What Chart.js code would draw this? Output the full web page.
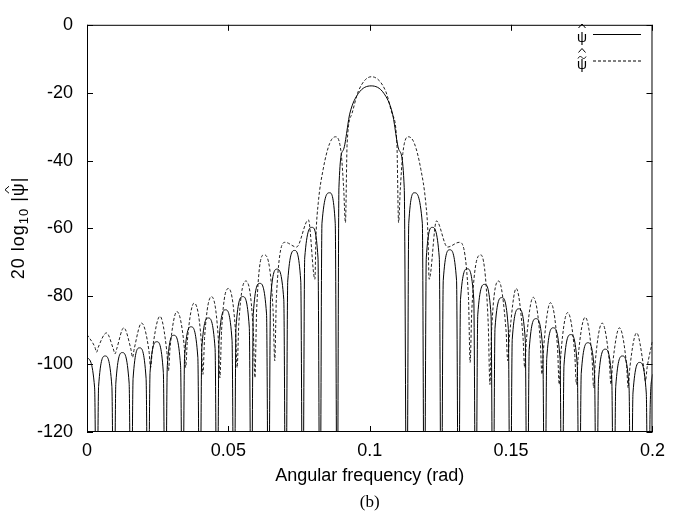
<!DOCTYPE html>
<html>
<head>
<meta charset="utf-8">
<script src="https://cdn.jsdelivr.net/npm/chart.js@4.4.0/dist/chart.umd.min.js"></script>
<style>
  html, body { margin: 0; padding: 0; background: #fff; }
</style>
</head>
<body>
<canvas id="myChart" width="673" height="518"></canvas>
<script>
const xTicks = [0, 0.05, 0.1, 0.15, 0.2];
const yTicks = [0, -20, -40, -60, -80, -100, -120];

// psi hat (solid) - nulls sit below the axis and get clipped
const solidX = [
  0, 0.0027, 0.0034,
  0.0041, 0.0064, 0.0088, 0.0095,
  0.0102, 0.0125, 0.0149, 0.0156,
  0.0163, 0.0186, 0.0209, 0.0216,
  0.0223, 0.0247, 0.0270, 0.0277,
  0.0284, 0.0307, 0.0331, 0.0338,
  0.0345, 0.0368, 0.0392, 0.0399,
  0.0406, 0.0429, 0.0453, 0.0460,
  0.0467, 0.0490, 0.0513, 0.0520,
  0.0527, 0.0551, 0.0574, 0.0581,
  0.0588, 0.0611, 0.0635, 0.0642,
  0.0649, 0.0672, 0.0696, 0.0703,
  0.0710, 0.0734, 0.0756, 0.0763,
  0.0770, 0.0796, 0.0817, 0.0824,
  0.0831, 0.0858, 0.0878, 0.0885,
  0.0891, 0.0906, 0.0930, 0.0960, 0.1005, 0.1050, 0.1080, 0.1104, 0.1122, 0.1131,
  0.1138, 0.1158, 0.1186, 0.1193,
  0.1200, 0.1221, 0.1246, 0.1253,
  0.1260, 0.1283, 0.1307, 0.1314,
  0.1321, 0.1345, 0.1368, 0.1375,
  0.1382, 0.1406, 0.1429, 0.1436,
  0.1443, 0.1467, 0.1490, 0.1497,
  0.1504, 0.1527, 0.1550, 0.1557,
  0.1564, 0.1588, 0.1612, 0.1619,
  0.1626, 0.1649, 0.1673, 0.1680,
  0.1687, 0.1711, 0.1734, 0.1741,
  0.1748, 0.1772, 0.1795, 0.1802,
  0.1809, 0.1833, 0.1856, 0.1863,
  0.1870, 0.1894, 0.1917, 0.1924,
  0.1931, 0.1955, 0.1978, 0.1985,
  0.1992, 0.2
];
const solidY = [
  -98, -107, -160,
  -106.6, -97.6, -106.6, -160,
  -105.6, -96.6, -105.6, -160,
  -104.2, -95.2, -104.2, -160,
  -102.4, -93.4, -102.4, -160,
  -100.5, -91.5, -100.5, -160,
  -98, -89, -98, -160,
  -95.4, -86.4, -95.4, -160,
  -93, -84, -93, -160,
  -89.1, -80.1, -89.1, -160,
  -85.2, -76.2, -85.2, -160,
  -81, -72, -81, -160,
  -75.5, -66.5, -75.5, -160,
  -68.7, -59.7, -68.7, -160,
  -58.5, -49.5, -58.5, -160,
  -48, -37, -26, -20.2, -18, -20.2, -26, -37, -48, -160,
  -58.5, -49.5, -58.5, -160,
  -68.7, -59.7, -68.7, -160,
  -75.3, -66.3, -75.3, -160,
  -80.9, -71.9, -80.9, -160,
  -85.5, -76.5, -85.5, -160,
  -89.4, -80.4, -89.4, -160,
  -92.7, -83.7, -92.7, -160,
  -95.6, -86.6, -95.6, -160,
  -98.3, -89.3, -98.3, -160,
  -100.3, -91.3, -100.3, -160,
  -102.7, -93.7, -102.7, -160,
  -104.6, -95.6, -104.6, -160,
  -106.6, -97.6, -106.6, -160,
  -108.5, -99.5, -108.5, -160,
  -112, -103
];

// psi tilde hat (dashed)
const dashedX = [
  0, 0.0028, 0.0034, 0.0040,
  0.0069, 0.0093, 0.0099, 0.0105,
  0.0130, 0.0155, 0.0161, 0.0167,
  0.0193, 0.0219, 0.0225, 0.0231,
  0.0258, 0.0282, 0.0288, 0.0294,
  0.0318, 0.0343, 0.0349, 0.0355,
  0.0379, 0.0404, 0.0410, 0.0416,
  0.0440, 0.0464, 0.0470, 0.0476,
  0.0501, 0.0525, 0.0531, 0.0537,
  0.0562, 0.0588, 0.0594, 0.0600,
  0.0626, 0.0658, 0.0664, 0.0670,
  0.0701, 0.0741,
  0.0783, 0.0806, 0.0810, 0.0818, 0.0835, 0.0858, 0.0879, 0.0899, 0.0908, 0.0914,
  0.0920, 0.0937, 0.0960, 0.1006, 0.1056, 0.1079, 0.1096, 0.1102,
  0.1108, 0.1117, 0.1137, 0.1158, 0.1181, 0.1198, 0.1206, 0.1210,
  0.1236, 0.1275,
  0.1317, 0.1349, 0.1355, 0.1361,
  0.1393, 0.1419, 0.1425, 0.1431,
  0.1456, 0.1482, 0.1488, 0.1494,
  0.1518, 0.1542, 0.1548, 0.1554,
  0.1578, 0.1603, 0.1609, 0.1615,
  0.1639, 0.1664, 0.1670, 0.1676,
  0.1700, 0.1725, 0.1731, 0.1737,
  0.1762, 0.1786, 0.1792, 0.1798,
  0.1822, 0.1847, 0.1853, 0.1859,
  0.1883, 0.1908, 0.1914, 0.1920,
  0.1944, 0.1969, 0.1975, 0.1981,
  0.2
];
const dashedY = [
  -91.3, -95, -96.5, -95,
  -90.8, -95.5, -97, -95.5,
  -89.3, -95.5, -98, -95.5,
  -87.9, -96, -101, -96,
  -85.9, -96, -102, -95,
  -84.5, -94, -101, -93,
  -82, -93, -103, -92,
  -80.1, -92, -104, -90,
  -77.7, -90, -101, -88,
  -75.5, -90, -104, -84,
  -67.8, -84, -99, -80,
  -64.1, -65.5,
  -57.5, -75, -62, -52.4, -42.7, -35, -33, -37.9, -48.6, -58.3,
  -35, -26.2, -19.5, -15.3, -19.5, -26.2, -35, -58.3,
  -48.6, -37.9, -33, -35, -42.7, -52.4, -62, -75,
  -57.8, -65.5,
  -64.1, -80, -99.5, -84,
  -67.8, -88, -106, -90,
  -75.5, -90, -99, -92,
  -77.7, -92, -101, -93,
  -80.3, -93, -103, -95,
  -81.9, -95, -106, -97,
  -84.8, -97, -106, -98,
  -86.2, -98, -107, -99,
  -87.9, -99, -106, -100,
  -89.3, -100, -107, -101,
  -90.8, -101, -105, -101,
  -93.2
];

const SANS = '"Liberation Sans", Arial, Helvetica, sans-serif';
const SERIF = '"Liberation Serif", "Times New Roman", serif';
const FS = 18;

function hat(ctx, cx, cy) {
  ctx.beginPath();
  ctx.moveTo(cx - 3.5, cy + 2);
  ctx.lineTo(cx, cy - 2);
  ctx.lineTo(cx + 3.5, cy + 2);
  ctx.stroke();
}
function tilde(ctx, cx, cy) {
  ctx.beginPath();
  ctx.moveTo(cx - 4, cy + 1);
  ctx.bezierCurveTo(cx - 2.5, cy - 2, cx - 1, cy - 1, cx, cy);
  ctx.bezierCurveTo(cx + 1, cy + 1, cx + 2.5, cy + 2, cx + 4, cy - 1);
  ctx.stroke();
}

// box, inward ticks, legend and texts
const frame = {
  id: 'frame',
  afterDatasetsDraw(chart) {
    const ctx = chart.ctx;
    const a = chart.chartArea;
    const xs = chart.scales.x, ys = chart.scales.y;
    ctx.save();
    ctx.strokeStyle = '#000';
    ctx.fillStyle = '#000';
    ctx.lineWidth = 1;
    ctx.setLineDash([]);
    ctx.strokeRect(a.left + 0.5, a.top + 0.5, a.right - a.left - 1, a.bottom - a.top - 1);

    ctx.beginPath();
    xTicks.forEach(v => {
      const px = Math.round(xs.getPixelForValue(v)) + 0.5;
      ctx.moveTo(px, a.bottom); ctx.lineTo(px, a.bottom - 6);
      ctx.moveTo(px, a.top); ctx.lineTo(px, a.top + 6);
    });
    yTicks.forEach(v => {
      const py = Math.round(ys.getPixelForValue(v)) + 0.5;
      ctx.moveTo(a.left, py); ctx.lineTo(a.left + 6, py);
      ctx.moveTo(a.right, py); ctx.lineTo(a.right - 6, py);
    });
    ctx.stroke();

    // legend
    chart.data.datasets.forEach((ds, i) => {
      const ly = 34 + i * 26.5;
      ctx.setLineDash(ds.borderDash || []);
      ctx.beginPath();
      ctx.moveTo(593, ly + 0.5); ctx.lineTo(641, ly + 0.5);
      ctx.stroke();
      ctx.setLineDash([]);
      ctx.font = '14px ' + SANS;
      ctx.textAlign = 'center';
      ctx.textBaseline = 'alphabetic';
      ctx.fillText('\u03C8', 582, ly + 8);
      if (i === 0) {
        hat(ctx, 582, ly - 8);
      } else {
        hat(ctx, 582, ly - 10);
        tilde(ctx, 582, ly - 3);
      }
    });

    // x title and caption
    ctx.textAlign = 'center';
    ctx.textBaseline = 'middle';
    ctx.font = FS + 'px ' + SANS;
    ctx.fillText('Angular frequency (rad)', (a.left + a.right) / 2, 476);
    ctx.font = '17px ' + SERIF;
    ctx.fillText('(b)', (a.left + a.right) / 2, 503);

    // y title, rotated
    ctx.translate(19, 228);
    ctx.rotate(-Math.PI / 2);
    ctx.textAlign = 'left';
    ctx.textBaseline = 'middle';
    ctx.letterSpacing = '1px';
    ctx.font = FS + 'px ' + SANS;
    const p1 = '20 log', p3a = ' |', psi = '\u03C8', p3b = '|';
    const w1 = ctx.measureText(p1).width;
    const w3a = ctx.measureText(p3a).width;
    const wpsi = ctx.measureText(psi).width;
    const w3b = ctx.measureText(p3b).width;
    ctx.font = '13px ' + SANS;
    const w2 = ctx.measureText('10').width;
    const start = -(w1 + w2 + w3a + wpsi + w3b) / 2;
    ctx.font = FS + 'px ' + SANS;
    ctx.fillText(p1, start, 0);
    ctx.font = '13px ' + SANS;
    ctx.fillText('10', start + w1, 5);
    ctx.font = FS + 'px ' + SANS;
    ctx.fillText(p3a + psi + p3b, start + w1 + w2, 0);
    hat(ctx, start + w1 + w2 + w3a + wpsi / 2 - 0.5, -12);
    ctx.restore();
  }
};

Chart.defaults.color = '#000';
Chart.defaults.font.family = SANS;
Chart.defaults.font.size = FS;

const toPoints = (xs, ys) => xs.map((x, i) => ({ x: x, y: ys[i] }));

const ctx = document.getElementById('myChart').getContext('2d');
const chart = new Chart(ctx, {
  type: 'line',
  data: {
    datasets: [
      {
        label: 'psi hat',
        data: toPoints(solidX, solidY),
        borderColor: '#000',
        borderWidth: 1,
        pointRadius: 0,
        cubicInterpolationMode: 'monotone',
        fill: false
      },
      {
        label: 'psi tilde hat',
        data: toPoints(dashedX, dashedY),
        borderColor: '#222',
        borderWidth: 1,
        borderDash: [3, 2],
        pointRadius: 0,
        cubicInterpolationMode: 'monotone',
        fill: false
      }
    ]
  },
  options: {
    responsive: false,
    animation: false,
    events: [],
    layout: { padding: { left: 0, right: 12, top: 20, bottom: 0 } },
    plugins: { legend: { display: false }, tooltip: { enabled: false } },
    scales: {
      x: {
        type: 'linear',
        min: 0,
        max: 0.2,
        grid: { display: false, drawTicks: false },
        border: { display: false },
        afterBuildTicks: s => { s.ticks = xTicks.map(v => ({ value: v })); },
        afterFit: s => { s.height = 86; },
        ticks: { padding: 8, maxRotation: 0, callback: v => String(v) }
      },
      y: {
        type: 'linear',
        min: -120,
        max: 0,
        grid: { display: false, drawTicks: false },
        border: { display: false },
        afterBuildTicks: s => { s.ticks = yTicks.map(v => ({ value: v })); },
        afterFit: s => { s.width = 87; },
        ticks: { padding: 14, callback: v => String(v) }
      }
    }
  },
  plugins: [frame]
});
</script>
</body>
</html>
